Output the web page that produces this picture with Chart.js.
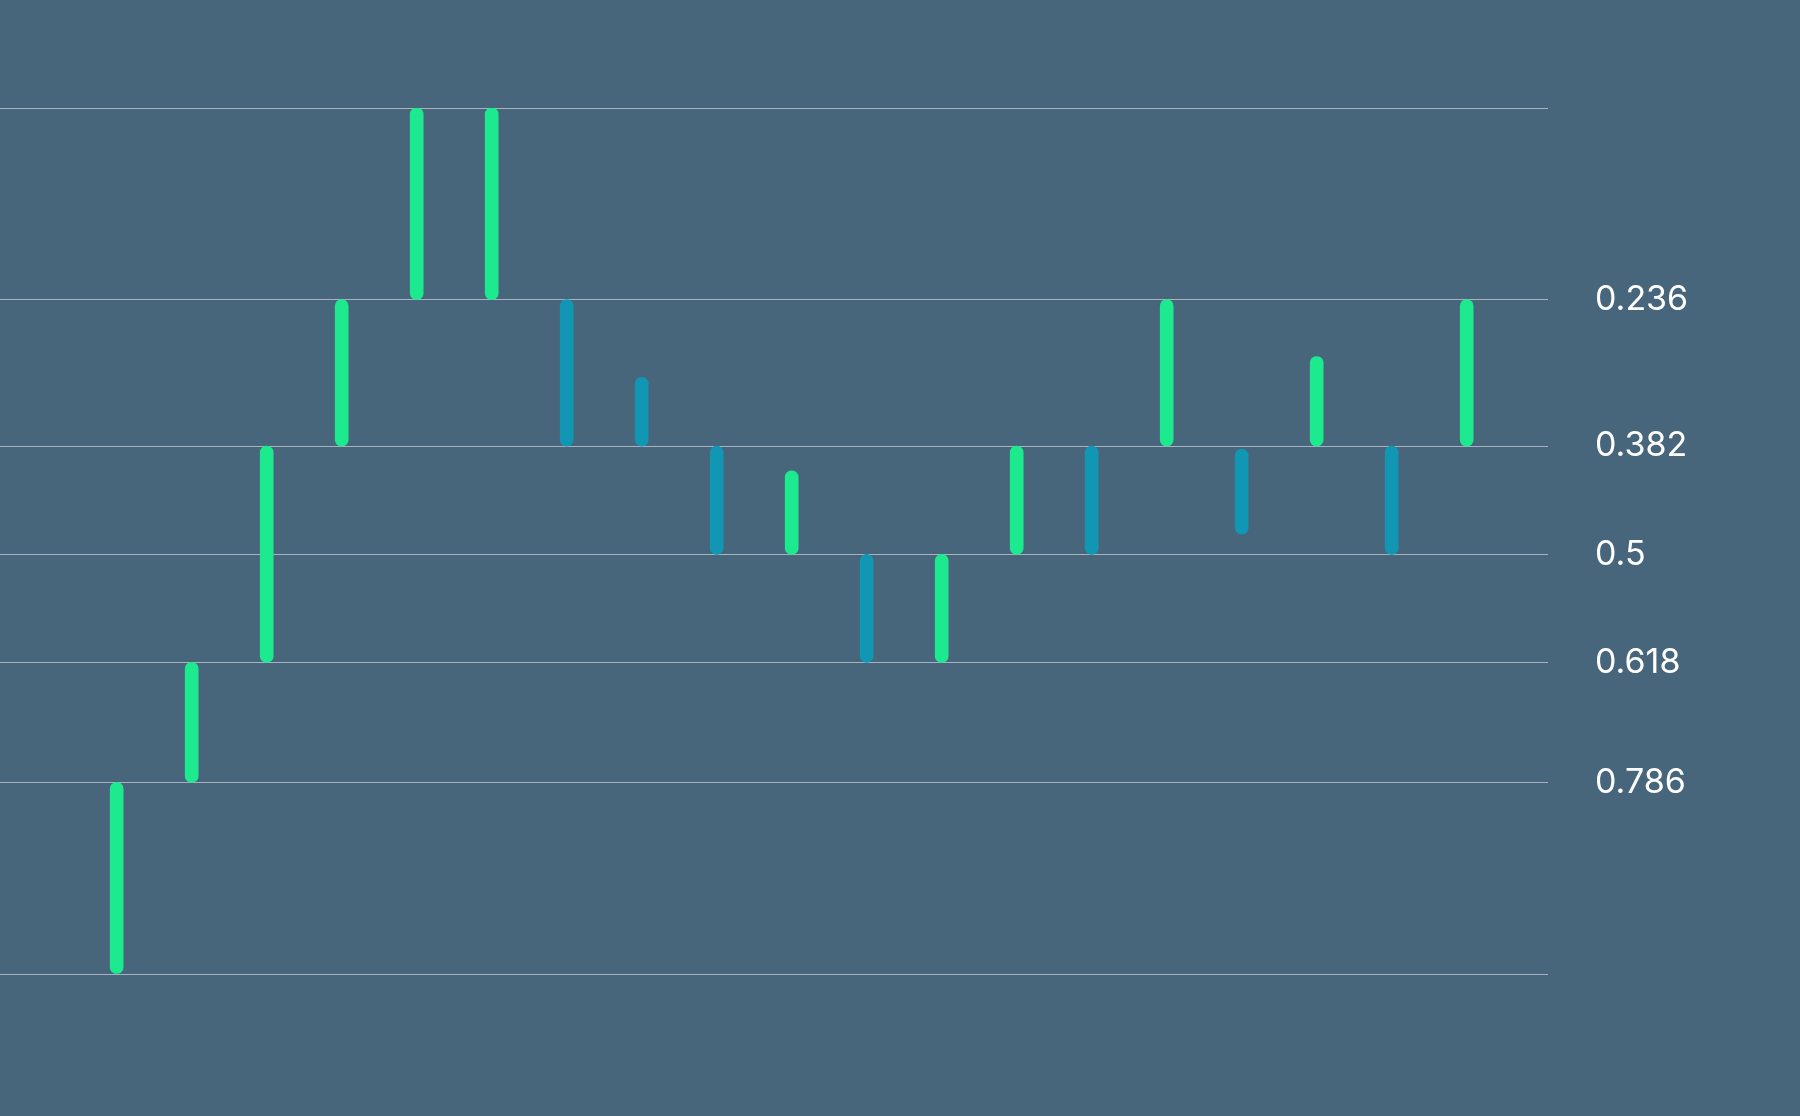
<!DOCTYPE html>
<html>
<head>
<meta charset="utf-8">
<script src="https://cdn.jsdelivr.net/npm/chart.js@4/dist/chart.umd.min.js"></script>
<style>
  html, body { margin: 0; padding: 0; background: #47667c; }
  #wrap { width: 1800px; height: 1116px; position: relative; }
</style>
</head>
<body>
<div id="wrap"><canvas id="fibChart"></canvas></div>
<script>
/*** Data ***/
// retracement levels: ratio label and the price it sits at
const levelRatios = [0, 0.236, 0.382, 0.5, 0.618, 0.786, 1];
const levelPrices = [100, 77.88, 60.95, 48.45, 35.98, 22.13, 0];

// one floating bar per period
const periods = [1, 2, 3, 4, 5, 6, 7, 8, 9, 10, 11, 12, 13, 14, 15, 16, 17, 18, 19];
const barLow  = [0, 22.13, 35.98, 60.95, 77.88, 77.88, 60.95, 60.95, 48.45, 48.45, 35.98, 35.98, 48.45, 48.45, 60.95, 50.8, 60.95, 48.45, 60.95];
const barHigh = [22.13, 35.98, 60.95, 77.88, 100, 100, 77.88, 68.9, 60.95, 58.1, 48.45, 48.45, 60.95, 60.95, 77.88, 60.6, 71.3, 60.95, 77.88];
const barDirection = ['up', 'up', 'up', 'up', 'up', 'up', 'down', 'down', 'down', 'up', 'down', 'up', 'up', 'down', 'up', 'down', 'up', 'down', 'up'];

/*** Colors ***/
const upColor = '#1dea8f';
const downColor = '#1196b4';

const fibCanvas = document.getElementById('fibChart').getContext('2d');

const fibChart = new Chart(fibCanvas, {
    type: 'bar',
    data: {
        datasets: [
            {
                data: periods.map((p, i) => ({x: p, y: [barLow[i], barHigh[i]]})),
                backgroundColor: barDirection.map(d => d === 'up' ? upColor : downColor),
                barThickness: 13,
                borderRadius: 7,
                borderSkipped: false
            }
        ]
    },
    options: {
        responsive: true,
        maintainAspectRatio: false,
        animation: false,
        layout: {
            padding: {top: 108, bottom: 142, left: 0, right: 0}
        },
        plugins: {
            legend: {display: false},
            tooltip: {enabled: false}
        },
        scales: {
            x: {
                type: 'linear',
                display: false,
                offset: false,
                min: -0.556,
                max: 20.084
            },
            y: {
                position: 'right',
                min: 0,
                max: 100,
                border: {display: false},
                grid: {
                    color: '#a7b4bf',
                    lineWidth: 1,
                    drawTicks: false
                },
                afterBuildTicks: function (scale) {
                    scale.ticks = levelPrices.map(v => ({value: v}));
                },
                afterFit: function (scale) {
                    scale.width = 252;
                },
                ticks: {
                    padding: 47,
                    color: '#ffffff',
                    font: {family: 'Inter', size: 34},
                    callback: function (value) {
                        const idx = levelPrices.indexOf(value);
                        if (idx <= 0 || idx === levelPrices.length - 1) return '';
                        return String(levelRatios[idx]);
                    }
                }
            }
        }
    }
});
</script>
</body>
</html>
